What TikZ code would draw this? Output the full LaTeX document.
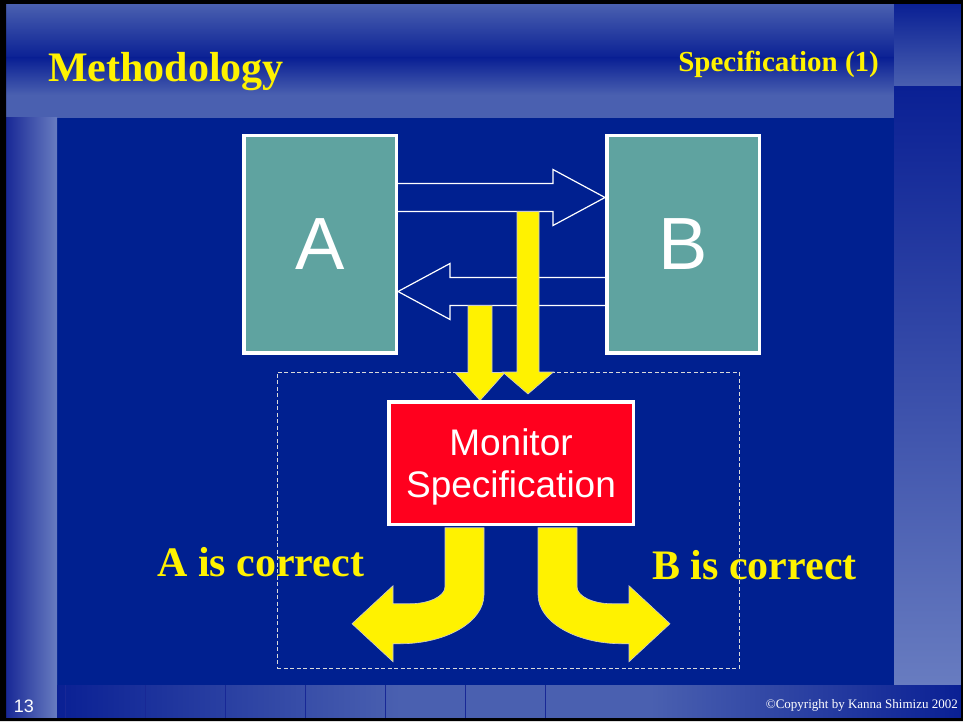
\documentclass[tikz,border=0pt]{standalone}
\usepackage{fontspec}
\setmainfont{Liberation Serif}
\setsansfont{Liberation Sans}
\usetikzlibrary{calc}
\definecolor{slideblue}{RGB}{0,32,144}
\definecolor{bandlight}{RGB}{74,96,176}
\definecolor{banddark}{RGB}{10,32,148}
\definecolor{collight}{RGB}{104,124,192}
\definecolor{coldark}{RGB}{24,40,150}
\definecolor{boxteal}{RGB}{95,163,160}
\definecolor{monred}{RGB}{255,0,30}

\begin{document}
\begin{tikzpicture}[x=1pt,y=1pt,
 party/.style={draw=white,line width=3.5pt,fill=boxteal,minimum width=152.5pt,minimum height=217.5pt,inner sep=0pt,text=white,font=\sffamily\fontsize{74}{74}\selectfont},
 monitor/.style={draw=white,line width=3.5pt,fill=monred,minimum width=244.5pt,minimum height=122.5pt,inner sep=0pt,align=center,text=white,text depth=0.5pt,font=\sffamily\fontsize{37}{42}\selectfont},
 message/.style={draw=white,line width=1.2pt,line join=miter},
 feed/.style={fill=yellow,draw=white!80!black,line width=0.6pt},
 verdict/.style={text=yellow,anchor=base west,inner sep=0pt,font=\bfseries\fontsize{42}{50}\selectfont},
 watch/.style={draw=white!85!black,line width=1pt,dash pattern=on 4pt off 2.5pt,minimum width=462pt,minimum height=296pt,inner sep=0pt}
]
% slide background
\useasboundingbox (0,0) rectangle (963,721);
\fill[slideblue] (6,3) rectangle (961,717);
\shade[top color=bandlight,bottom color=banddark] (6,663) rectangle (894,717);
\shade[top color=banddark,bottom color=bandlight] (6,626) rectangle (894,663);
\fill[bandlight] (6,603) rectangle (894,626);
\shade[top color=banddark,bottom color=bandlight] (894,634) rectangle (961,717);
\shade[left color=coldark,right color=collight] (6,3) rectangle (57,603);
\shade[top color=banddark,bottom color=collight] (894,36) rectangle (961,634);
\shade[left color=banddark,right color=bandlight] (57,3) rectangle (400,36);
\fill[bandlight] (400,3) rectangle (650,36);
\shade[left color=bandlight,right color=banddark] (650,3) rectangle (961,36);
\foreach \x in {65,145,...,545}
  \draw[coldark,line width=0.8pt] (\x,3) -- (\x,36);
\fill[black,even odd rule] (0,0) rectangle (963,721) (6,3) rectangle (961,717);

\node[anchor=base west,inner sep=0pt,text=yellow,font=\bfseries\fontsize{42}{50}\selectfont] (title) at (48,639) {Methodology};
\node[anchor=base east,inner sep=0pt,text=yellow,font=\bfseries\fontsize{29}{34}\selectfont] (topic) at (879,649) {Specification (1)};
\node[anchor=base,inner sep=0pt,text=white,font=\sffamily\fontsize{18}{20}\selectfont] (page) at (24,9) {13};
\node[anchor=base east,inner sep=0pt,text=white,font=\fontsize{13}{15}\selectfont] (copy) at (958,13) {\textcopyright Copyright by Kanna Shimizu 2002};

% the two parties
\node[party] (A) at (320,476.5) {A};
\node[party] (B) at (683,476.5) {B};
\coordinate (tipB) at ($(B.west)+(0,47)$);
\coordinate (tipA) at ($(A.east)+(0,-47)$);
\draw[message] ($(A.east)+(0,61)$) -- ($(tipB)+(-52,14)$) -- ++(0,14) -- (tipB) -- ++(-52,-28) -- ++(0,14) -- ($(A.east)+(0,33)$);
\draw[message] ($(B.west)+(0,-33)$) -- ($(tipA)+(52,14)$) -- ++(0,14) -- (tipA) -- ++(52,-28) -- ++(0,14) -- ($(B.west)+(0,-61)$);

\node[verdict] (okA) at (157,145) {A is correct};
\node[verdict] (okB) at (652,142) {B is correct};
\node[watch] (zone) at (508,201) {};

% monitored messages
\coordinate (feedA) at ($(tipA)+(82,-14)$);
\coordinate (feedB) at ($(tipB)+(-77,-14)$);
\filldraw[feed] (feedA) ++(-12,0) -- ++(0,-67) -- ++(-13,0) -- ++(25,-28) -- ++(25,28) -- ++(-13,0) -- ++(0,67) -- cycle;
\filldraw[feed] (feedB) ++(-11,0) -- ++(0,-160.5) -- ++(-14.5,0) -- ++(25.5,-22) -- ++(25.5,22) -- ++(-14.5,0) -- ++(0,160.5) -- cycle;

\node[monitor] (Mon) at (511,258) {Monitor\\Specification};
\foreach \s in {1,-1}
  \filldraw[feed,shift={($(Mon.south)+(0,-1.75)$)},xscale=\s] (-66,0) -- (-66,-59) arc[start angle=0,end angle=-90,x radius=35,y radius=17] -- (-118,-76) -- (-118,-58) -- (-159,-96) -- (-118,-134) -- (-118,-116) -- (-111,-116) arc[start angle=-90,end angle=0,x radius=84,y radius=49] -- (-27,0) -- cycle;
\end{tikzpicture}
\end{document}
